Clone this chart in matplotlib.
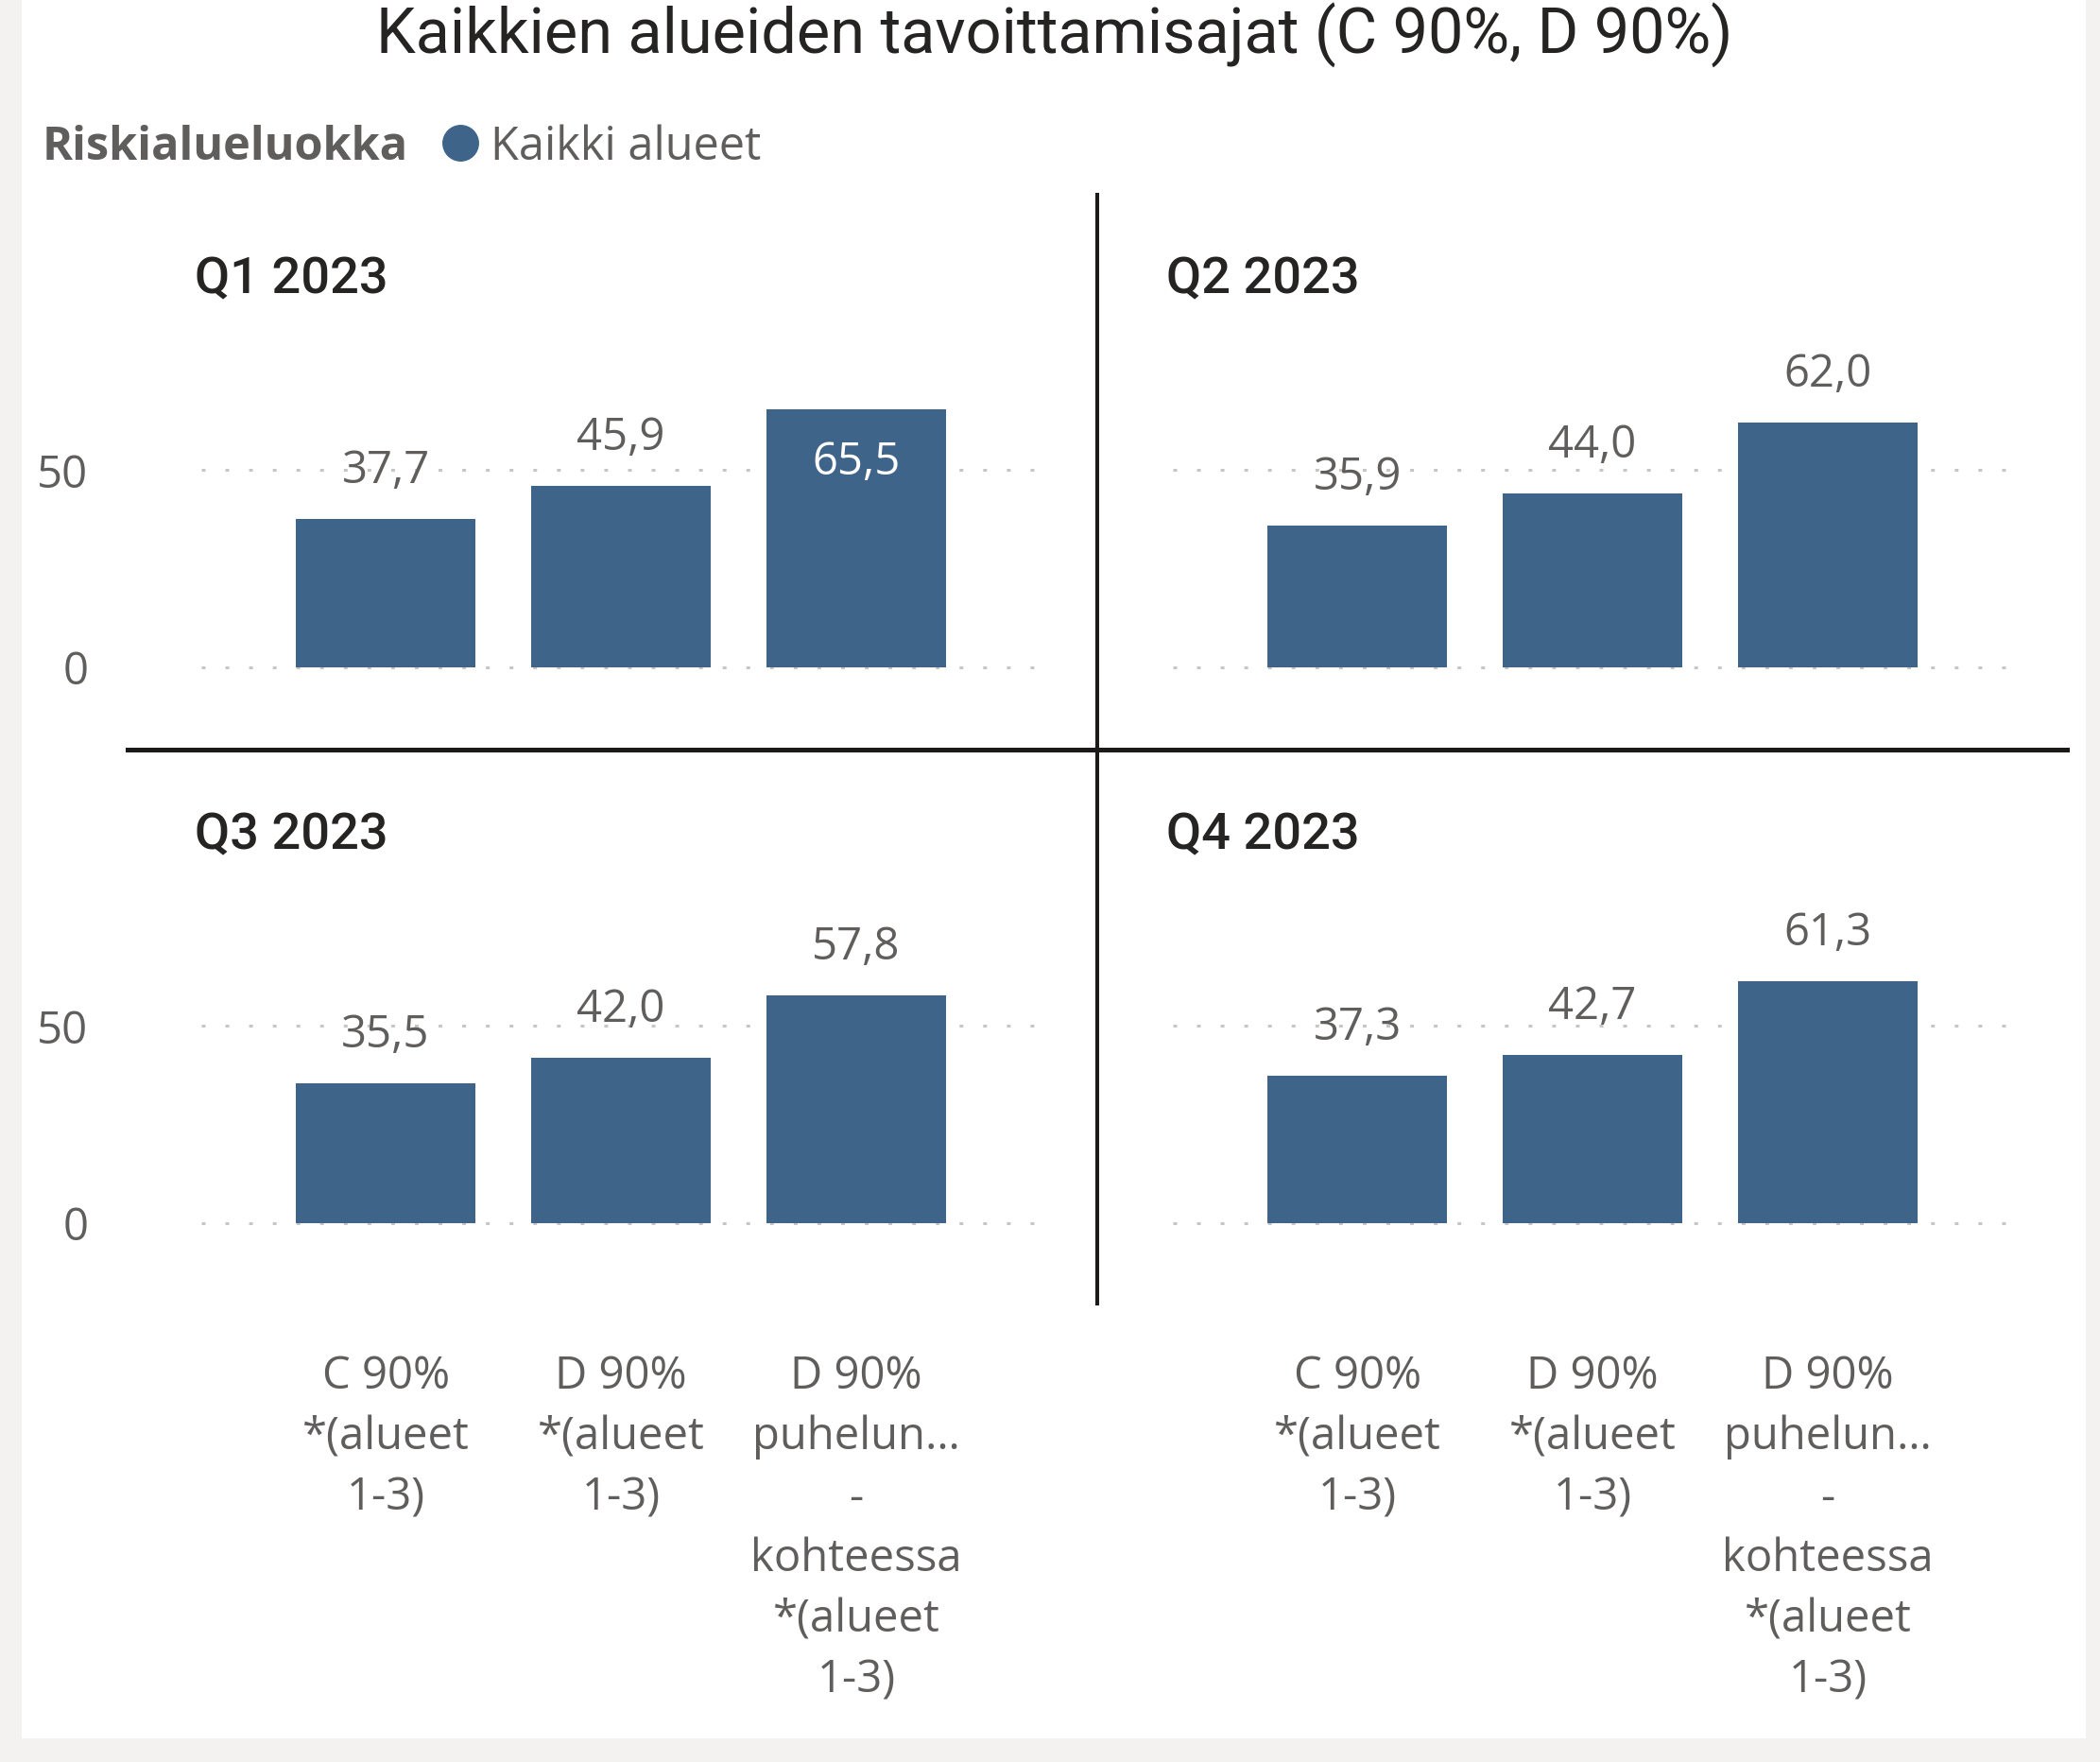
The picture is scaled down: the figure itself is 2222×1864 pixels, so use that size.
import matplotlib
matplotlib.use("Agg")
import matplotlib.pyplot as plt
from matplotlib.lines import Line2D
from matplotlib.patches import Rectangle

# ---------------- data ----------------
title = "Kaikkien alueiden tavoittamisajat (C 90%, D 90%)"
legend_title = "Riskialueluokka"
legend_item = "Kaikki alueet"
quarters = ["Q1 2023", "Q2 2023", "Q3 2023", "Q4 2023"]
categories = [
    "C 90%\n*(alueet\n1-3)",
    "D 90%\n*(alueet\n1-3)",
    "D 90%\npuhelun…\n-\nkohteessa\n*(alueet\n1-3)",
]
q1_values = [37.7, 45.9, 65.5]
q2_values = [35.9, 44.0, 62.0]
q3_values = [35.5, 42.0, 57.8]
q4_values = [37.3, 42.7, 61.3]
y_ticks = [0, 50]
y_tick_labels = ["0", "50"]

# ---------------- style ----------------
W, H = 2222, 1864
BAR = "#3F648A"
GRAY_TXT = "#605E5C"
DARK = "#252423"
GRID = "#C8C6C4"
LABEL_FONT = ["Open Sans", "DejaVu Sans"]
HEAD_FONT = ["Roboto", "DejaVu Sans"]

def fx(x):
    return x / W

def fy(y):
    return 1 - y / H

fig = plt.figure(figsize=(W / 100, H / 100), dpi=100)
fig.patch.set_facecolor("#F3F2F1")
fig.add_artist(Rectangle((fx(23), fy(1839)), (2207 - 23) / W, 1839 / H,
                         transform=fig.transFigure, facecolor="white",
                         edgecolor="none", zorder=0))

# title & legend
fig.text(fx(1116), fy(57), title, ha="center", va="baseline",
         fontsize=48, family=HEAD_FONT, color=DARK)
fig.text(fx(45), fy(169), legend_title, ha="left", va="baseline",
         fontsize=35, family=LABEL_FONT, fontweight="bold", color=GRAY_TXT)
fig.add_artist(Line2D([fx(487)], [fy(151)], marker="o", markersize=27,
                      color=BAR, transform=fig.transFigure, linestyle="none"))
fig.text(fx(519), fy(169), legend_item, ha="left", va="baseline",
         fontsize=35, family=LABEL_FONT, color=GRAY_TXT)

# separators
fig.add_artist(Line2D([fx(1161), fx(1161)], [fy(206), fy(1379)],
                      color="#1B1A19", linewidth=2.9, transform=fig.transFigure))
fig.add_artist(Line2D([fx(135), fx(2187)], [fy(792.5), fy(792.5)],
                      color="#1B1A19", linewidth=3.6, transform=fig.transFigure))

all_values = [q1_values, q2_values, q3_values, q4_values]
unit = 4.166            # px per value unit
ylo, yhi = -1.0, 70.0
x_positions = list(range(len(categories)))

for i, (q, vals) in enumerate(zip(quarters, all_values)):
    r, c = divmod(i, 2)
    left = 212.6 + c * 1028
    width = 897
    y0 = 705.7 + r * 588
    bottom_px = y0 - ylo * unit
    top_px = y0 - yhi * unit
    ax = fig.add_axes([fx(left), fy(bottom_px), width / W, (bottom_px - top_px) / H])
    ax.set_facecolor("none")
    ax.bar(x_positions, vals, width=0.763, color=BAR, zorder=3)
    ax.set_xlim(-0.785, 2.817)
    ax.set_ylim(ylo, yhi)
    ax.set_yticks(y_ticks)
    ax.set_yticklabels(y_tick_labels)
    ax.yaxis.grid(True, color=GRID, linewidth=2.2, linestyle=(0, (1.3, 6.9)), zorder=0)
    ax.set_axisbelow(True)
    for s in ax.spines.values():
        s.set_visible(False)
    ax.tick_params(axis="both", length=0)
    ax.tick_params(axis="y", pad=86, labelsize=34, labelcolor=GRAY_TXT)
    if c == 1:
        ax.tick_params(axis="y", labelleft=False)
    for lab in ax.get_yticklabels():
        lab.set_family(LABEL_FONT)
    ax.set_xticks(x_positions)
    if r == 1:
        ax.set_xticklabels(categories, fontsize=34, color=GRAY_TXT,
                           family=LABEL_FONT, linespacing=1.46, va="top")
        ax.tick_params(axis="x", pad=97)
    else:
        ax.set_xticklabels([])

    # panel title
    fig.text(fx(206 + c * 1028), fy(310 + r * 588), q, ha="left", va="baseline",
             fontsize=39, family=HEAD_FONT, fontweight="medium", color=DARK)

    # data labels
    for xp, v in zip(x_positions, vals):
        txt = f"{v:.1f}".replace(".", ",")
        if v > 63:
            ax.annotate(txt, (xp, v), xytext=(0, -69), textcoords="offset pixels",
                        ha="center", va="baseline", fontsize=34,
                        family=LABEL_FONT, color="white", zorder=5)
        else:
            ax.annotate(txt, (xp, v), xytext=(0, 38), textcoords="offset pixels",
                        ha="center", va="baseline", fontsize=34,
                        family=LABEL_FONT, color=GRAY_TXT, zorder=5)

fig.savefig("out.png", dpi=100, facecolor=fig.get_facecolor())
